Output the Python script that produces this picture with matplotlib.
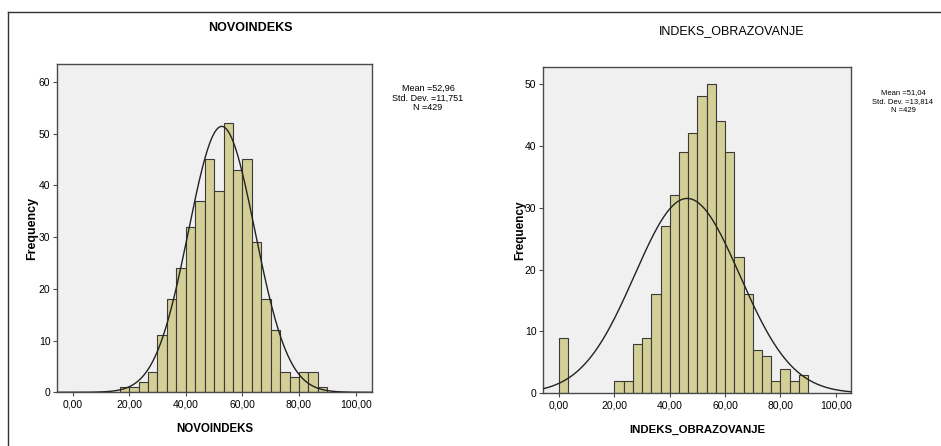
import numpy as np
import matplotlib
matplotlib.use("Agg")
import matplotlib.pyplot as plt
from matplotlib.ticker import FuncFormatter, MultipleLocator
from matplotlib.lines import Line2D
from matplotlib import font_manager

# ---------------- data ----------------
bin_width = 10 / 3

novo_title = "NOVOINDEKS"
novo_bin_first = 50 / 3          # left edge of first bin
novo_counts = [1, 1, 2, 4, 11, 18, 24, 32, 37, 45, 39, 52, 43, 45, 29, 18, 12, 4, 3, 4, 4, 1]
novo_stats = ["Mean =52,96", "Std. Dev. =11,751", "N =429"]
novo_curve = dict(center=52.7, sd=11.751, peak=51.4)

obraz_title = "INDEKS_OBRAZOVANJE"
obraz_bin_lefts = [0.0] + [20 + i * (10 / 3) for i in range(21)]
obraz_counts = [9, 2, 2, 8, 9, 16, 27, 32, 39, 42, 48, 50, 44, 39, 22, 16, 7, 6, 2, 4, 2, 3]
obraz_stats = ["Mean =51,04", "Std. Dev. =13,814", "N =429"]
obraz_curve = dict(center=46.3, sd=19.0, peak=31.5)

x_ticks = [0, 20, 40, 60, 80, 100]

# ---------------- style ----------------
avail = {f.name for f in font_manager.fontManager.ttflist}
narrow = "Liberation Sans Narrow" if "Liberation Sans Narrow" in avail else "Liberation Sans"
plt.rcParams["font.family"] = ["Liberation Sans", "DejaVu Sans"]

BAR = "#d3cf97"
EDGE = "#3a3a3a"
BG = "#f0f0f0"
SPINE = "#4a4a4a"

fig = plt.figure(figsize=(9.41, 4.46), dpi=100)
W, H = 941, 446


def ax_rect(x0, x1, ytop, ybot):
    return [x0 / W, (H - ybot) / H, (x1 - x0) / W, (ybot - ytop) / H]


def draw(ax, lefts, counts, curve, ylim, xlim, ystep):
    ax.set_facecolor(BG)
    ax.bar(lefts, counts, width=bin_width, align="edge", color=BAR,
           edgecolor=EDGE, linewidth=0.8, zorder=2)
    xs = np.linspace(xlim[0], xlim[1], 400)
    ys = curve["peak"] * np.exp(-0.5 * ((xs - curve["center"]) / curve["sd"]) ** 2)
    ax.plot(xs, ys, color="#222222", lw=1.0, zorder=3)
    ax.set_xlim(*xlim)
    ax.set_ylim(*ylim)
    ax.set_xticks(x_ticks)
    ax.xaxis.set_major_formatter(FuncFormatter(lambda v, p: f"{v:.2f}".replace(".", ",")))
    ax.yaxis.set_major_locator(MultipleLocator(ystep))
    ax.yaxis.set_major_formatter(FuncFormatter(lambda v, p: f"{int(round(v))}"))
    ax.tick_params(axis="both", direction="out", length=3, width=0.8, color=SPINE,
                   labelsize=7.5, pad=2)
    for lab in ax.get_xticklabels() + ax.get_yticklabels():
        lab.set_fontfamily(narrow)
    for s in ax.spines.values():
        s.set_color(SPINE)
        s.set_linewidth(1.0)


axL = fig.add_axes(ax_rect(57.3, 372.3, 64.3, 392.3))
novo_lefts = [novo_bin_first + i * bin_width for i in range(len(novo_counts))]
draw(axL, novo_lefts, novo_counts, novo_curve, (0, 63.4), (-5.4, 105.9), 10)

axR = fig.add_axes(ax_rect(543.3, 850.7, 67.3, 393.3))
draw(axR, obraz_bin_lefts, obraz_counts, obraz_curve, (0, 52.7), (-5.7, 105.4), 10)

# titles
fig.text(250 / W, 1 - 28 / H, novo_title, ha="center", va="center", fontsize=9, fontweight="bold")
fig.text(732 / W, 1 - 31.5 / H, obraz_title, ha="center", va="center", fontsize=9)

# x labels
fig.text(214.5 / W, 1 - 429.5 / H, novo_title, ha="center", va="center", fontsize=8.3, fontweight="bold")
fig.text(697.5 / W, 1 - 429.5 / H, obraz_title, ha="center", va="center", fontsize=8.2, fontweight="bold")

# y labels
fig.text(32 / W, 1 - 228 / H, "Frequency", ha="center", va="center", rotation=90,
         fontsize=9, fontweight="bold")
fig.text(520 / W, 1 - 230 / H, "Frequency", ha="center", va="center", rotation=90,
         fontsize=8.5, fontweight="bold")

# stats boxes
for cx, ys, lines, fs in [(428, [88, 98, 108], novo_stats, 6.5),
                          (903, [93, 102, 111], obraz_stats, 5.5)]:
    for y, t in zip(ys, lines):
        fig.text(cx / W, 1 - y / H, t, ha="center", va="center", fontsize=fs, family=narrow)

# outer frame lines
fig.add_artist(Line2D([7.5 / W, 7.5 / W], [0, 1 - 11.7 / H], transform=fig.transFigure,
                      color="#333333", lw=1.0))
fig.add_artist(Line2D([7.5 / W, 1], [1 - 11.7 / H, 1 - 11.7 / H], transform=fig.transFigure,
                      color="#333333", lw=1.0))

fig.savefig("out.png", dpi=100, facecolor="white")
